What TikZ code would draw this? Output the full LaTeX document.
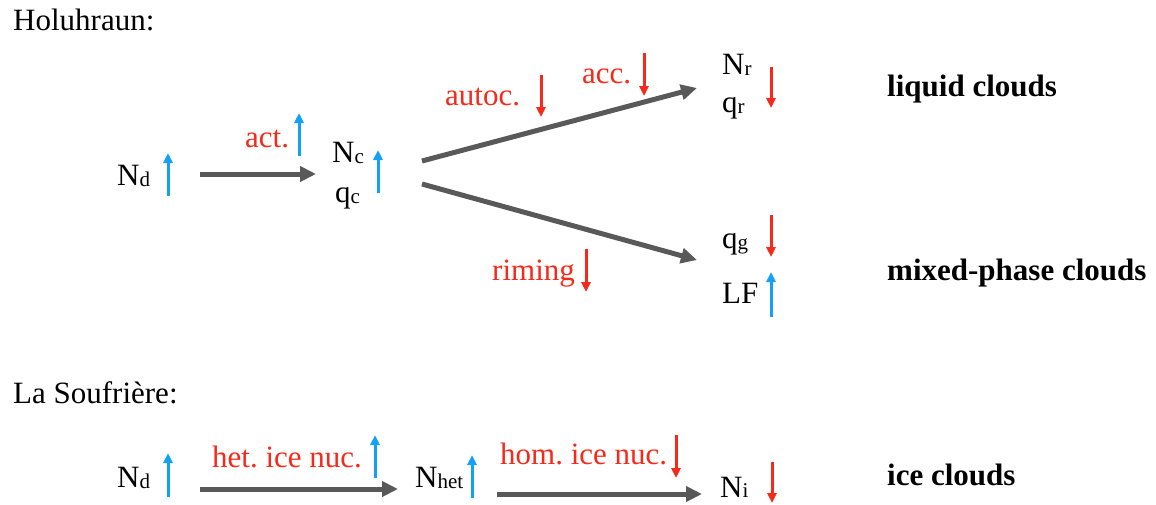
\documentclass[tikz,border=0pt]{standalone}
\usepackage{fontspec}
\setmainfont{Liberation Serif}
\usetikzlibrary{arrows.meta}
\frenchspacing
\definecolor{myred}{HTML}{F52A1A}
\definecolor{myblue}{HTML}{14A0F5}
\definecolor{mygray}{HTML}{595959}
\newcommand{\sbs}[1]{\raisebox{-1.5pt}{\fontsize{21}{21}\selectfont #1}}
\tikzset{
  txt/.style={anchor=base west, inner sep=0pt, font=\fontsize{31}{37}\selectfont\frenchspacing},
  redtxt/.style={txt, text=myred},
  boldtxt/.style={txt, font=\fontsize{31}{37}\selectfont\bfseries},
  mainarr/.style={draw=mygray, line width=5pt, -{Triangle[length=16pt,width=15pt]}, fill=mygray},
  bluearr/.style={draw=myblue, line width=3pt, -{Triangle[length=10pt,width=9pt]}},
  redarr/.style={draw=myred, line width=3pt, -{Triangle[length=10pt,width=9pt]}}
}
\begin{document}
\begin{tikzpicture}[x=1pt,y=-1pt]
\useasboundingbox (0,0) rectangle (1156,504);
% titles
\node[txt] (t1) at (13,30) {Holuhraun:};
\node[txt] (t2) at (13,403) {La Soufrière:};
\node[boldtxt] (liq) at (887,96) {liquid clouds};
\node[boldtxt] (mix) at (887,280) {mixed-phase clouds};
\node[boldtxt] (icec) at (887,485) {ice clouds};
% variables
\node[txt] (Nd1) at (117,185) {N\sbs{d}};
\node[txt] (Nc) at (332,162) {N\sbs{c}};
\node[txt] (qc) at (335,202) {q\sbs{c}};
\node[txt] (Nr) at (722,74) {N\sbs{r}};
\node[txt] (qr) at (722,112) {q\sbs{r}};
\node[txt] (qg) at (722,248) {q\sbs{g}};
\node[txt] (LF) at (722,303) {LF};
\node[txt] (Nd2) at (117,487) {N\sbs{d}};
\node[txt] (Nhet) at (415,487) {N\sbs{het}};
\node[txt] (Ni) at (720,497) {N\raisebox{-0.5pt}{\fontsize{21}{21}\selectfont i}};
% process labels
\node[redtxt] (act) at (245,147) {act.};
\node[redtxt] (autoc) at (445,105) {autoc.};
\node[redtxt] (acc) at (582,83) {acc.};
\node[redtxt] (rim) at (492,280) {riming};
\node[redtxt] (het) at (212,467) {het. ice nuc.};
\node[redtxt] (hom) at (500,464) {hom. ice nuc.};
% connector endpoints
\coordinate (a1s) at (200,174); \coordinate (a1e) at (316,174);
\coordinate (a2s) at (422,161); \coordinate (a2e) at (697,88);
\coordinate (a3s) at (422,184); \coordinate (a3e) at (697,260);
\coordinate (a4s) at (200,489); \coordinate (a4e) at (398,489);
\coordinate (a5s) at (497,494); \coordinate (a5e) at (702,494);
\draw[mainarr] (a1s) -- (a1e);
\draw[mainarr] (a2s) -- (a2e);
\draw[mainarr] (a3s) -- (a3e);
\draw[mainarr] (a4s) -- (a4e);
\draw[mainarr] (a5s) -- (a5e);
% blue (increase) arrows
\draw[bluearr] (168,196) -- (168,153);
\draw[bluearr] (299,156) -- (299,113);
\draw[bluearr] (378,193) -- (378,150);
\draw[bluearr] (771,317) -- (771,272);
\draw[bluearr] (168,497) -- (168,453);
\draw[bluearr] (375,478) -- (375,435);
\draw[bluearr] (472,498) -- (472,455);
% red (decrease) arrows
\draw[redarr] (541,75) -- (541,117);
\draw[redarr] (644,53) -- (644,96);
\draw[redarr] (771,67) -- (771,108);
\draw[redarr] (771,215) -- (771,257);
\draw[redarr] (586,249) -- (586,292);
\draw[redarr] (676,435) -- (676,478);
\draw[redarr] (772,462) -- (772,503);
\end{tikzpicture}
\end{document}
